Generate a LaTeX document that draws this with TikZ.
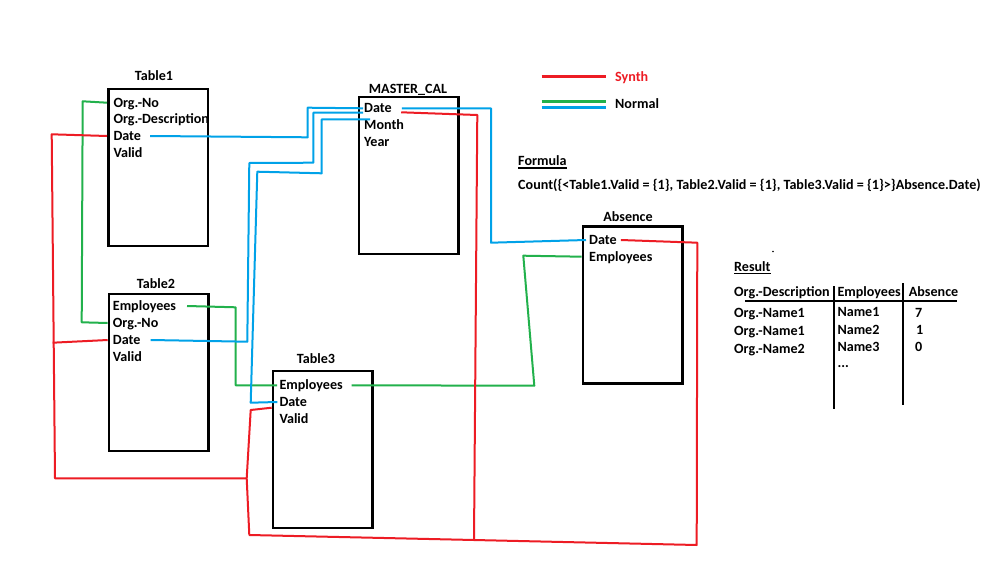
\documentclass[tikz,border=0pt]{standalone}
\usepackage{fontspec}
\setmainfont{Carlito}
\usetikzlibrary{calc}
\definecolor{pred}{RGB}{237,28,36}
\definecolor{pgreen}{RGB}{34,177,76}
\definecolor{pblue}{RGB}{0,162,232}
\begin{document}
\begin{tikzpicture}[x=1pt,y=-1pt,
  every node/.style={font=\fontsize{14.1}{16}\selectfont\bfseries, inner sep=0pt},
  tbox/.style={draw=black, line width=2.5pt, minimum width=99.5pt, minimum height=157pt},
  row/.style={anchor=base west, text height=10.4pt, text depth=1.6pt},
  ttl/.style={anchor=base},
  plain/.style={anchor=base west},
  rl/.style={draw=pred, line width=2pt, line join=round},
  gl/.style={draw=pgreen, line width=2pt, line join=round},
  bl/.style={draw=pblue, line width=2pt, line join=round},
  rule/.style={draw=black, line width=1.8pt}]
\fill[white] (0,0) rectangle (999,562);
\useasboundingbox (0,0) rectangle (999,562);

% boxes
\node[tbox] (t1) at (158,167.5) {};
\node[tbox] (mc) at (408.7,175.5) {};
\node[tbox] (ab) at (632.7,305) {};
\node[tbox] (t2) at (158.7,372.7) {};
\node[tbox] (t3) at (322.7,449.5) {};

% titles
\node[ttl] (t1t) at (154,80.4) {Table1};
\node[ttl] (mct) at (408,93.7) {MASTER\_CAL};
\node[ttl] (abt) at (628,221) {Absence};
\node[ttl] (t2t) at (156,288.4) {Table2};
\node[ttl] (t3t) at (316,363.7) {Table3};

% rows
\node[row] (t1no) at (113.3,107.1) {Org.-No};
\node[row] (t1desc) at (113.3,123.7) {Org.-Description};
\node[row] (t1date) at (113.3,140.4) {Date};
\node[row] (t1valid) at (113.3,157.1) {Valid};

\node[row] (mcdate) at (364,112.7) {Date};
\node[row] (mcmonth) at (364,129.4) {Month};
\node[row] (mcyear) at (364,146.1) {Year};

\node[row] (abdate) at (589,244.4) {Date};
\node[row] (abemp) at (589,261.1) {Employees};

\node[row] (t2emp) at (112.7,310.4) {Employees};
\node[row] (t2no) at (112.7,327.4) {Org.-No};
\node[row] (t2date) at (112.7,344.4) {Date};
\node[row] (t2valid) at (112.7,361.1) {Valid};

\node[row] (t3emp) at (279.3,389.7) {Employees};
\node[row] (t3date) at (279.3,406.4) {Date};
\node[row] (t3valid) at (279.3,423.1) {Valid};

% green connectors
\draw[gl] (t1.west |- t1no.west) -- (82.7,101.3) -- (81.7,322.3) -- (t2.west |- t2no.west);
\draw[gl] ([xshift=10.7pt]t2emp.east) -- (235.7,307.3) -- (235.7,385.3) -- ([xshift=-2.3pt]t3emp.west);
\draw[gl] ([xshift=8.6pt]t3emp.east) -- (534.3,385.7) -- (523.3,255.7) -- (ab.west |- abemp.west);

% blue connectors
\draw[bl] ([xshift=9pt]t1date.east) -- (307.7,137.3) -- (307.7,107.7) -- ([xshift=-1pt]mcdate.west);
\draw[bl] ([xshift=10pt]t2date.east) -- (247.3,341.7) -- (249.3,163) -- (313.3,162.7) -- (313.3,112.7) -- ([xshift=-1pt,yshift=-4.4pt]mcdate.west);
\draw[bl] ([xshift=-2pt]t3date.west) -- (250.7,402.7) -- (257.3,171.7) -- (321.7,173.3) -- (321.7,119.3) -- ([xshift=6pt,yshift=-11pt]mcdate.west);
\draw[bl] ([xshift=10pt]mcdate.east) -- (491,108.3) -- (491,242.7) -- ([xshift=-3pt]abdate.west);

% red connectors
\draw[rl] (t1.west |- t1date.west) -- (51.7,134.3) -- (55,478.3) -- (246.7,478.3);
\draw[rl] (t2.west |- t2date.west) -- (52.7,342.7);
\draw[rl] ($(t3.west |- t3date.west)+(0,5.7)$) -- (250.7,410) -- (246.7,478.3) -- (249.3,535) -- (474,540) -- (696.7,545) -- (697.3,242.7) -- ([xshift=4pt]abdate.east);
\draw[rl] ([xshift=9.3pt,yshift=-4pt]mcdate.east) -- (477.3,115) -- (474,540);

% legend
\draw[draw=pred, line width=3.5pt] (541.7,76.7) -- (605.7,76.7);
\node[plain, text=pred] (synth) at (615,81.1) {Synth};
\draw[draw=pgreen, line width=3pt] (541.7,101.7) -- (605.7,101.7);
\draw[draw=pblue, line width=3pt] (541.7,107) -- (605.7,107);
\node[plain] (normal) at (615,108.4) {Normal};

% formula
\node[plain] (fh) at (518,165.4) {Formula};
\draw[line width=1.3pt] ([yshift=-2.5pt]fh.base west) -- ([yshift=-2.5pt]fh.base east);
\node[plain] (ft) at (518,189) {Count(\{<Table1.Valid = \{1\}, Table2.Valid = \{1\}, Table3.Valid = \{1\}>\}Absence.Date)};

% result
\fill (773,251.5) circle (0.9);
\node[plain] (rh) at (734,271) {Result};
\draw[line width=1.3pt] ([yshift=-2.5pt]rh.base west) -- ([yshift=-2.5pt]rh.base east);
\node[plain] (h1) at (734,296) {Org.-Description};
\node[plain] (h2) at (837.3,296) {Employees};
\node[plain] (h3) at (908.7,296) {Absence};
\draw[rule] (745,300.7) -- (957,300.7);
\draw[rule] (834.3,286) -- (834.3,409.3);
\draw[rule] (903,283.3) -- (903,405);

\node[plain] (o1) at (734,317.7) {Org.-Name1};
\node[plain] (o2) at (734,335.4) {Org.-Name1};
\node[plain] (o3) at (734,353.4) {Org.-Name2};
\node[plain] (n1) at (837.3,316) {Name1};
\node[plain] (n2) at (837.3,334.4) {Name2};
\node[plain] (n3) at (837.3,351.7) {Name3};
\node[plain] (n4) at (837.3,367) {...};
\node[plain] (v1) at (915,317.5) {7};
\node[plain] (v2) at (916,334.4) {1};
\node[plain] (v3) at (915,351.7) {0};
\end{tikzpicture}
\end{document}
